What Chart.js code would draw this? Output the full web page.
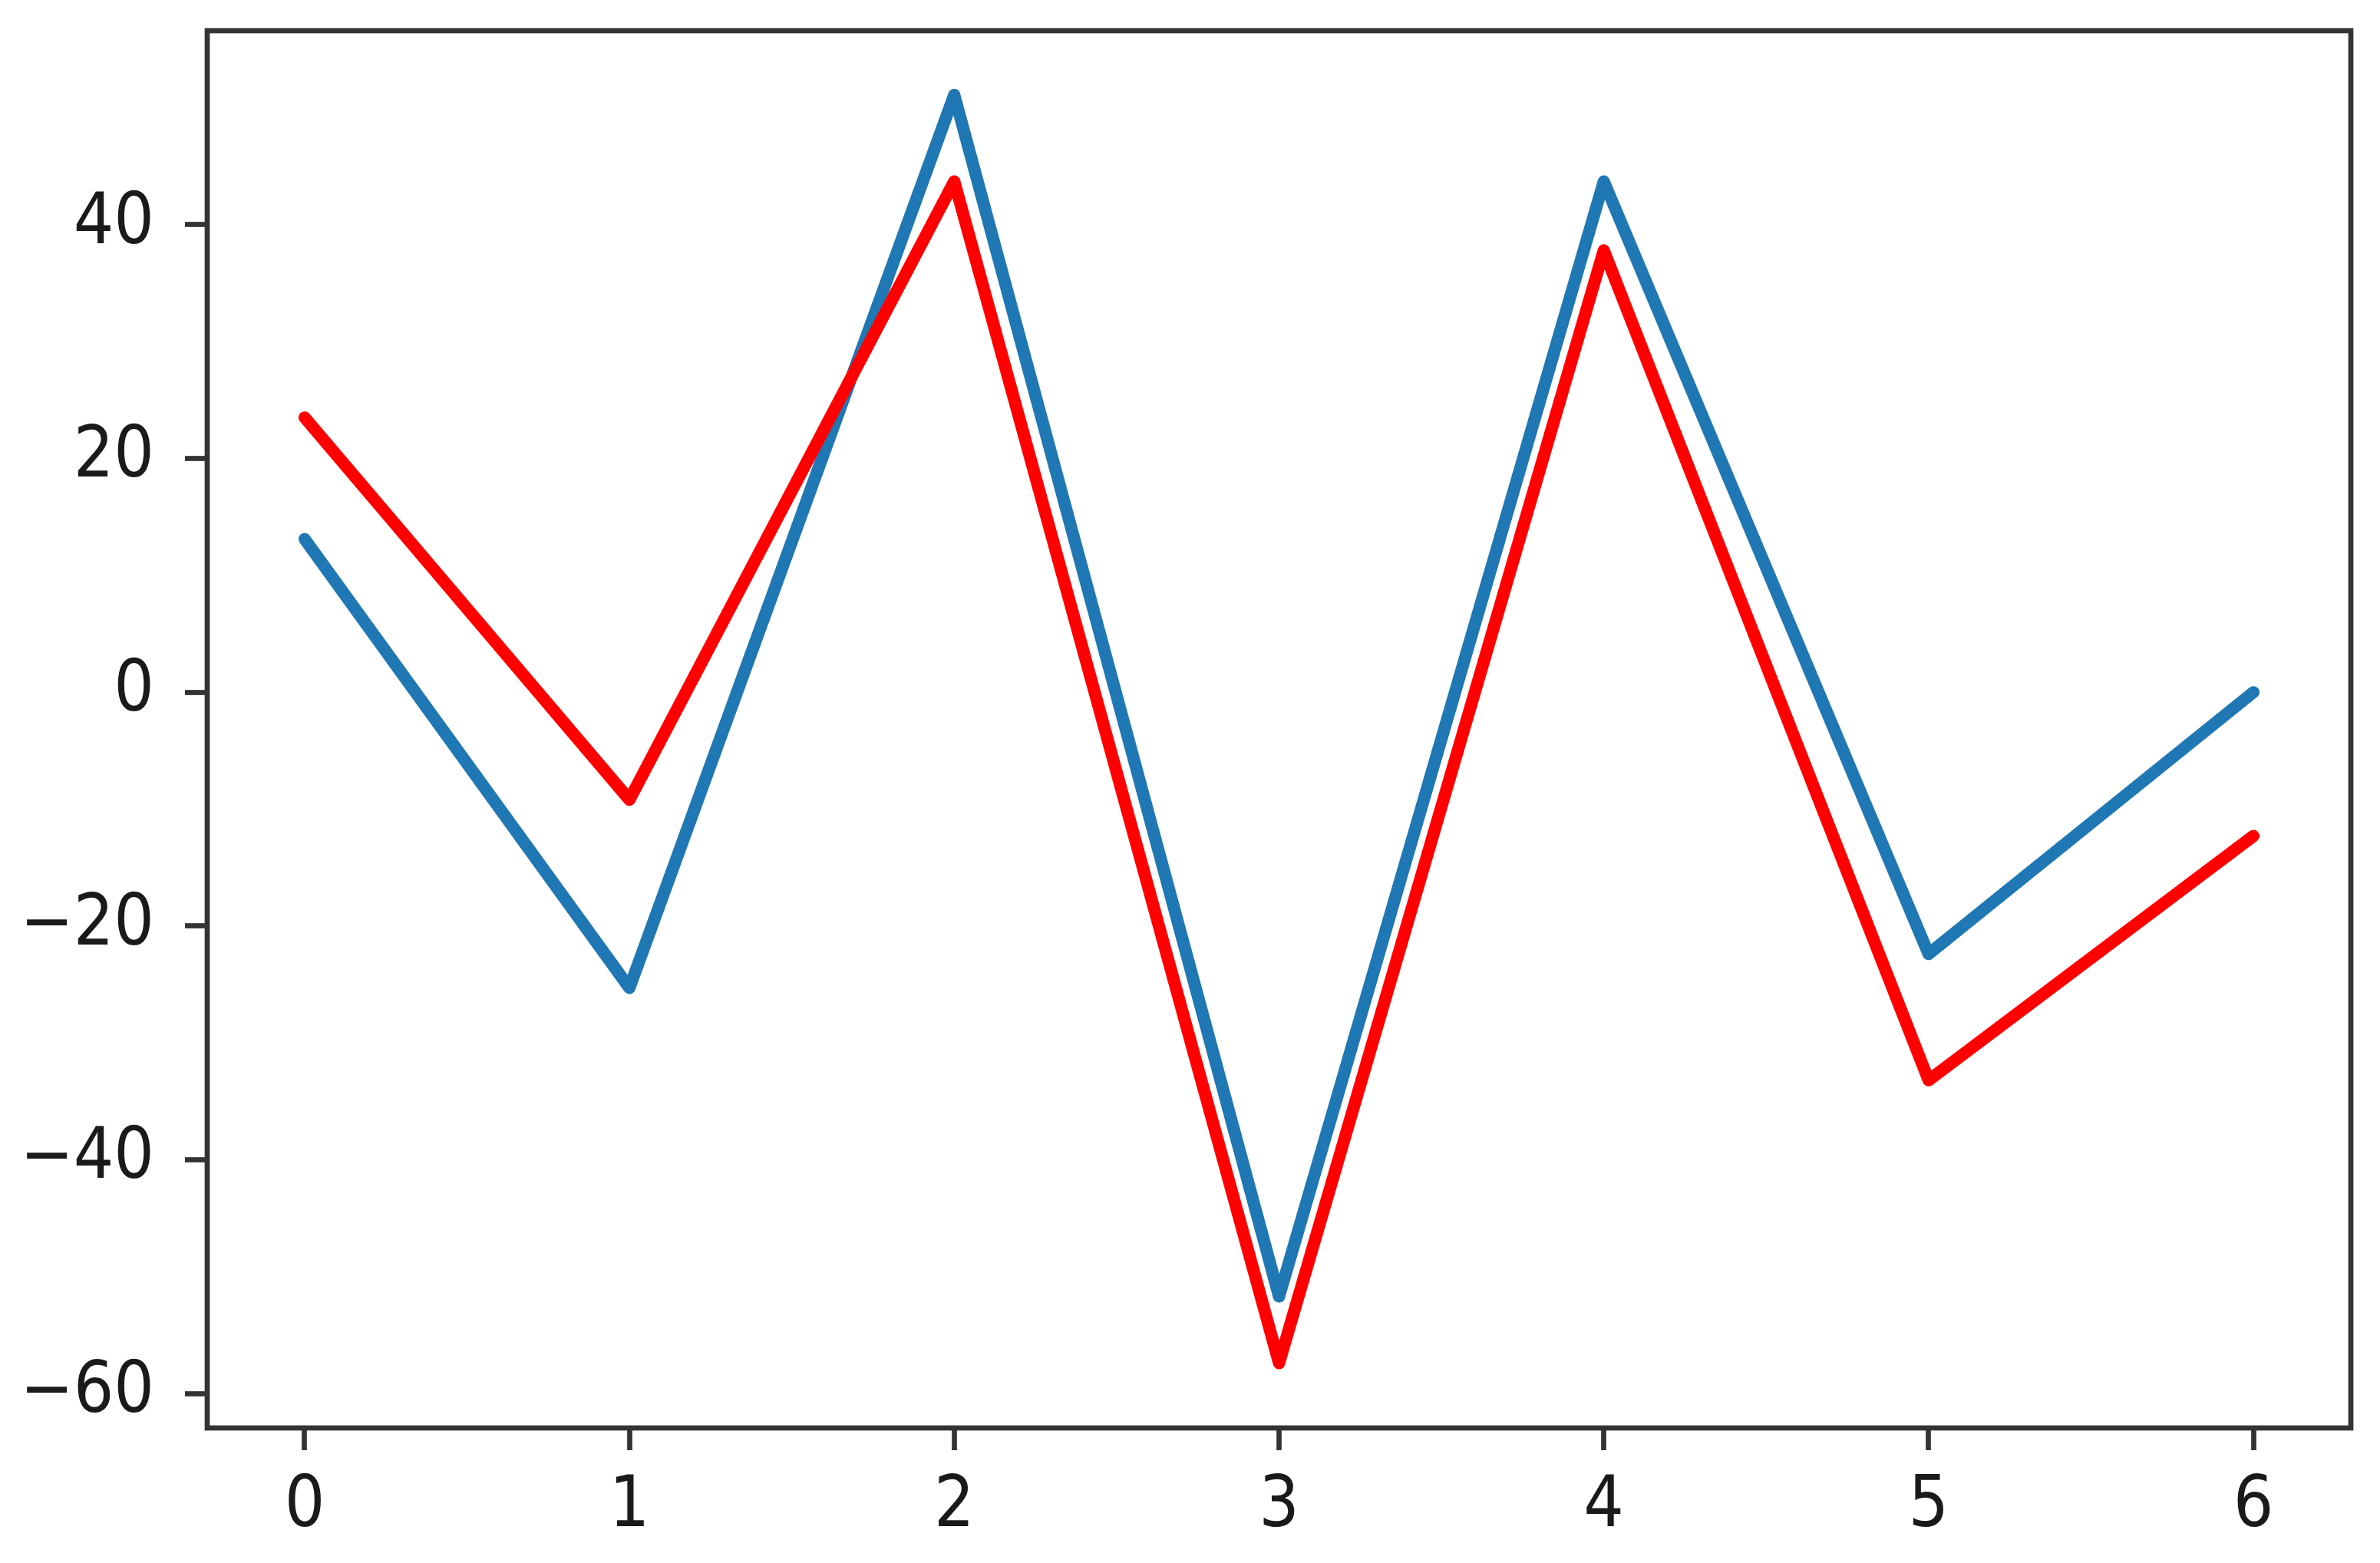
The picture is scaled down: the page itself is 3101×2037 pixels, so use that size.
<!DOCTYPE html>
<html>
<head>
<meta charset="utf-8">
<script src="https://cdn.jsdelivr.net/npm/chart.js@4/dist/chart.umd.min.js"></script>
<style>
  html, body { margin: 0; padding: 0; background: #fff; }
  #wrap { width: 3101px; height: 2037px; position: relative; }
</style>
</head>
<body>
<div id="wrap"><canvas id="lineChart"></canvas></div>
<script>
// data
const xValues = [0, 1, 2, 3, 4, 5, 6];
const blueSeries = [13.1, -25.3, 51.1, -51.7, 43.7, -22.4, 0.0];
const redSeries = [23.5, -9.2, 43.7, -57.4, 37.8, -33.2, -12.3];

const xTickValues = [0, 1, 2, 3, 4, 5, 6];
const xTickLabels = ["0", "1", "2", "3", "4", "5", "6"];
const yTickValues = [-60, -40, -20, 0, 20, 40];
const yTickLabels = ["\u221260", "\u221240", "\u221220", "0", "20", "40"];

const spineColor = "#333333";
const textColor = "#1a1a1a";
const tickFont = { family: "'DejaVu Sans Condensed', 'DejaVu Sans', sans-serif", size: 92 };

// matplotlib style box around the plot area
const frameBox = {
  id: "frameBox",
  afterDatasetsDraw(chart) {
    const { ctx, chartArea: a } = chart;
    ctx.save();
    ctx.strokeStyle = spineColor;
    ctx.lineWidth = 6.7;
    ctx.strokeRect(a.left, a.top, a.right - a.left, a.bottom - a.top);
    ctx.restore();
  },
};

const ctx = document.getElementById("lineChart").getContext("2d");

new Chart(ctx, {
  type: "line",
  data: {
    datasets: [
      {
        label: "red",
        data: xValues.map((x, i) => ({ x: x, y: redSeries[i] })),
        borderColor: "#ff0000",
        borderWidth: 16,
        pointRadius: 0,
        tension: 0,
        borderJoinStyle: "round",
        borderCapStyle: "round",
        order: 0,
      },
      {
        label: "blue",
        data: xValues.map((x, i) => ({ x: x, y: blueSeries[i] })),
        borderColor: "#1f77b4",
        borderWidth: 16,
        pointRadius: 0,
        tension: 0,
        borderJoinStyle: "round",
        borderCapStyle: "round",
        order: 1,
      },
    ],
  },
  options: {
    responsive: true,
    maintainAspectRatio: false,
    devicePixelRatio: 1,
    animation: false,
    layout: { padding: { left: 0, right: 38, top: 40, bottom: 0 } },
    plugins: {
      legend: { display: false },
      tooltip: { enabled: false },
    },
    scales: {
      x: {
        type: "linear",
        min: -0.3,
        max: 6.3,
        afterBuildTicks: (scale) => {
          scale.ticks = xTickValues.map((v) => ({ value: v }));
        },
        afterFit: (scale) => {
          scale.height = 176;
          scale.paddingLeft = 0;
          scale.paddingRight = 0;
        },
        border: { display: false },
        grid: {
          drawOnChartArea: false,
          drawTicks: true,
          tickLength: 29,
          tickWidth: 6.7,
          tickColor: spineColor,
        },
        ticks: {
          padding: 20,
          maxRotation: 0,
          color: textColor,
          font: tickFont,
          callback: (v) => xTickLabels[xTickValues.indexOf(v)],
        },
      },
      y: {
        type: "linear",
        min: -62.95,
        max: 56.6,
        afterBuildTicks: (scale) => {
          scale.ticks = yTickValues.map((v) => ({ value: v }));
        },
        afterFit: (scale) => {
          scale.width = 270;
          scale.paddingTop = 0;
          scale.paddingBottom = 0;
        },
        border: { display: false },
        grid: {
          drawOnChartArea: false,
          drawTicks: true,
          tickLength: 29,
          tickWidth: 6.7,
          tickColor: spineColor,
        },
        ticks: {
          padding: 40,
          color: textColor,
          font: tickFont,
          callback: (v) => yTickLabels[yTickValues.indexOf(v)],
        },
      },
    },
  },
  plugins: [frameBox],
});
</script>
</body>
</html>
